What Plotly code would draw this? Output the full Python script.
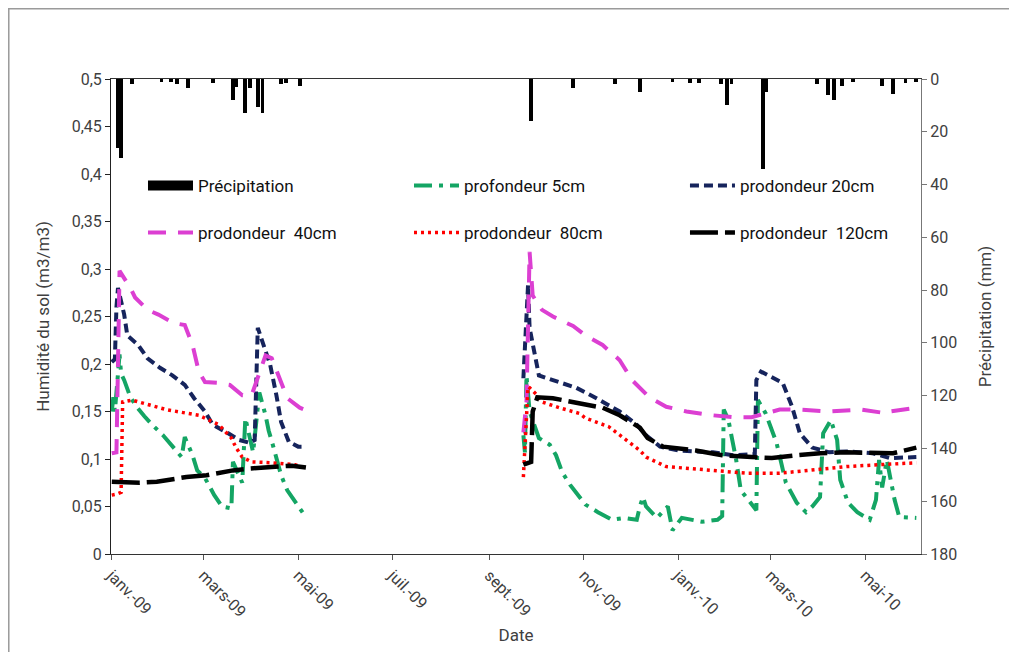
import plotly.graph_objects as go

# ---------------- data ----------------
precip_dates = ["2009-01-05", "2009-01-07", "2009-01-14", "2009-02-02", "2009-02-08", "2009-02-12",
                "2009-02-19", "2009-03-07", "2009-03-20", "2009-03-22", "2009-03-28", "2009-03-31",
                "2009-04-05", "2009-04-08", "2009-04-20", "2009-04-23", "2009-05-02", "2009-09-28",
                "2009-10-25", "2009-11-21", "2009-12-07", "2009-12-28", "2010-01-08", "2010-01-14",
                "2010-01-28", "2010-02-01", "2010-02-04", "2010-02-24", "2010-02-26", "2010-03-31",
                "2010-04-07", "2010-04-11", "2010-04-16", "2010-04-23", "2010-05-12", "2010-05-19",
                "2010-05-27", "2010-06-03"]
precip_mm = [26, 30, 2, 1, 1, 2, 3.5, 1.5, 8, 3, 13, 3.5, 10.5, 13, 2, 1.5, 2.5, 16,
             3.5, 2, 5, 1, 1.5, 1.5, 2, 10, 2, 34, 5, 2, 6, 8, 2.5, 1, 2.5, 5.7, 1.5, 1]

# profondeur 5cm
p5_dates_1 = ["2009-01-01", "2009-01-02", "2009-01-03", "2009-01-05", "2009-01-06", "2009-01-07",
              "2009-01-09", "2009-01-13", "2009-01-17", "2009-01-22", "2009-01-27", "2009-02-03",
              "2009-02-09", "2009-02-15", "2009-02-17", "2009-02-22", "2009-02-25", "2009-03-02",
              "2009-03-08", "2009-03-13", "2009-03-19", "2009-03-20", "2009-03-26", "2009-03-28",
              "2009-04-02", "2009-04-06", "2009-04-10", "2009-04-12", "2009-04-15", "2009-04-20",
              "2009-04-24", "2009-04-29", "2009-05-05"]
p5_vals_1 = [0.15, 0.165, 0.15, 0.185, 0.21, 0.19, 0.183, 0.165, 0.155, 0.145, 0.136, 0.125,
             0.113, 0.102, 0.123, 0.104, 0.088, 0.08, 0.062, 0.05, 0.048, 0.097, 0.075, 0.143,
             0.107, 0.17, 0.146, 0.13, 0.113, 0.083, 0.067, 0.055, 0.041]
p5_dates_2 = ["2009-09-23", "2009-09-24", "2009-09-25", "2009-09-27", "2009-10-03", "2009-10-10",
              "2009-10-14", "2009-10-18", "2009-10-23", "2009-11-02", "2009-11-10", "2009-11-19",
              "2009-11-27", "2009-12-05", "2009-12-07", "2009-12-09", "2009-12-11", "2009-12-18",
              "2009-12-25", "2009-12-28", "2010-01-03", "2010-01-16", "2010-01-26", "2010-01-29",
              "2010-01-30", "2010-02-02", "2010-02-07", "2010-02-10", "2010-02-20", "2010-02-21",
              "2010-02-26", "2010-03-05", "2010-03-08", "2010-03-11", "2010-03-18", "2010-03-24",
              "2010-03-28", "2010-04-02", "2010-04-04", "2010-04-09", "2010-04-13", "2010-04-15",
              "2010-04-20", "2010-04-26", "2010-05-04", "2010-05-08", "2010-05-10", "2010-05-12",
              "2010-05-15", "2010-05-20", "2010-05-23", "2010-06-03"]
p5_vals_2 = [0.125, 0.107, 0.188, 0.15, 0.122, 0.115, 0.104, 0.086, 0.073, 0.052, 0.044, 0.036,
             0.038, 0.036, 0.05, 0.06, 0.05, 0.038, 0.05, 0.025, 0.038, 0.034, 0.036, 0.04,
             0.152, 0.141, 0.099, 0.067, 0.046, 0.162, 0.148, 0.117, 0.096, 0.075, 0.054, 0.044,
             0.05, 0.06, 0.127, 0.141, 0.12, 0.078, 0.054, 0.044, 0.036, 0.057, 0.099, 0.07,
             0.099, 0.057, 0.039, 0.038]

# prodondeur 20cm
p20_dates_1 = ["2009-01-01", "2009-01-03", "2009-01-04", "2009-01-05", "2009-01-09", "2009-01-11",
               "2009-01-18", "2009-01-24", "2009-02-01", "2009-02-09", "2009-02-17", "2009-02-23",
               "2009-03-02", "2009-03-07", "2009-03-16", "2009-03-24", "2009-03-31", "2009-04-03",
               "2009-04-05", "2009-04-08", "2009-04-13", "2009-04-17", "2009-04-20", "2009-04-25",
               "2009-05-01", "2009-05-06"]
p20_vals_1 = [0.202, 0.205, 0.26, 0.28, 0.252, 0.23, 0.22, 0.206, 0.196, 0.188, 0.178, 0.164,
              0.15, 0.136, 0.128, 0.12, 0.117, 0.12, 0.238, 0.223, 0.199, 0.167, 0.139, 0.118,
              0.113, 0.113]
p20_dates_2 = ["2009-09-23", "2009-09-26", "2009-09-27", "2009-09-30", "2009-10-03", "2009-10-12",
               "2009-10-27", "2009-11-09", "2009-11-24", "2009-12-05", "2009-12-11", "2009-12-20",
               "2010-01-01", "2010-01-23", "2010-02-05", "2010-02-19", "2010-02-20", "2010-02-23",
               "2010-03-02", "2010-03-09", "2010-03-15", "2010-03-20", "2010-03-28", "2010-04-08",
               "2010-04-19", "2010-05-06", "2010-05-17", "2010-05-25", "2010-06-03"]
p20_vals_2 = [0.185, 0.283, 0.238, 0.21, 0.188, 0.183, 0.175, 0.164, 0.15, 0.136, 0.125, 0.113,
              0.109, 0.107, 0.104, 0.105, 0.183, 0.192, 0.186, 0.18, 0.155, 0.127, 0.112, 0.107,
              0.108, 0.106, 0.101, 0.101, 0.102]

# prodondeur 40cm
p40_dates_1 = ["2009-01-01", "2009-01-04", "2009-01-05", "2009-01-06", "2009-01-13", "2009-01-16",
               "2009-01-24", "2009-01-31", "2009-02-10", "2009-02-17", "2009-02-22", "2009-02-26",
               "2009-03-02", "2009-03-11", "2009-03-18", "2009-03-26", "2009-04-01", "2009-04-07",
               "2009-04-10", "2009-04-14", "2009-04-19", "2009-04-24", "2009-05-02", "2009-05-05"]
p40_vals_1 = [0.106, 0.107, 0.2, 0.298, 0.28, 0.27, 0.257, 0.252, 0.243, 0.241, 0.22, 0.192,
              0.181, 0.18, 0.178, 0.167, 0.167, 0.196, 0.209, 0.206, 0.185, 0.164, 0.154, 0.152]
p40_dates_2 = ["2009-09-23", "2009-09-25", "2009-09-27", "2009-09-29", "2009-10-05", "2009-10-12",
               "2009-10-25", "2009-11-02", "2009-11-13", "2009-11-24", "2009-12-02", "2009-12-13",
               "2009-12-24", "2010-01-06", "2010-01-23", "2010-02-05", "2010-02-17", "2010-02-26",
               "2010-03-07", "2010-03-20", "2010-04-08", "2010-04-29", "2010-05-15", "2010-05-17",
               "2010-06-03"]
p40_vals_2 = [0.128, 0.16, 0.318, 0.272, 0.257, 0.25, 0.24, 0.23, 0.22, 0.204, 0.183, 0.165,
              0.155, 0.15, 0.146, 0.144, 0.144, 0.148, 0.152, 0.152, 0.15, 0.152, 0.148, 0.15,
              0.154]

# prodondeur 80cm
p80_dates_1 = ["2009-01-01", "2009-01-04", "2009-01-07", "2009-01-08", "2009-01-14", "2009-02-05",
               "2009-02-26", "2009-03-11", "2009-03-19", "2009-03-22", "2009-03-26", "2009-04-01",
               "2009-04-14", "2009-04-23", "2009-04-29", "2009-05-05"]
p80_vals_1 = [0.062, 0.063, 0.065, 0.16, 0.162, 0.152, 0.146, 0.136, 0.122, 0.112, 0.102, 0.097,
              0.096, 0.095, 0.094, 0.091]
p80_dates_2 = ["2009-09-23", "2009-09-26", "2009-09-27", "2009-10-02", "2009-10-05", "2009-10-16",
               "2009-10-29", "2009-11-02", "2009-11-17", "2009-11-30", "2009-12-07", "2009-12-11",
               "2009-12-24", "2010-01-23", "2010-02-14", "2010-03-07", "2010-03-28", "2010-04-19",
               "2010-05-10", "2010-06-03"]
p80_vals_2 = [0.081, 0.176, 0.175, 0.167, 0.16, 0.154, 0.148, 0.143, 0.134, 0.118, 0.109, 0.102,
              0.092, 0.088, 0.085, 0.085, 0.088, 0.092, 0.094, 0.096]

# prodondeur 120cm
p120_dates_1 = ["2009-01-01", "2009-01-19", "2009-01-30", "2009-02-12", "2009-02-18", "2009-03-03",
                "2009-03-20", "2009-03-31", "2009-04-17", "2009-04-27", "2009-05-06"]
p120_vals_1 = [0.076, 0.075, 0.076, 0.08, 0.081, 0.083, 0.088, 0.09, 0.092, 0.093, 0.091]
p120_dates_2 = ["2009-09-23", "2009-09-28", "2009-09-29", "2009-10-02", "2009-10-12", "2009-10-27",
                "2009-11-13", "2009-11-24", "2009-12-07", "2009-12-12", "2009-12-22", "2010-01-12",
                "2010-01-29", "2010-02-17", "2010-03-02", "2010-03-18", "2010-04-02", "2010-04-19",
                "2010-05-10", "2010-05-19", "2010-06-03"]
p120_vals_2 = [0.094, 0.097, 0.15, 0.165, 0.164, 0.159, 0.154, 0.146, 0.133, 0.122, 0.113, 0.109,
               0.104, 0.102, 0.101, 0.104, 0.106, 0.107, 0.107, 0.106, 0.112]

gap_date = "2009-07-01"   # break between the two measuring campaigns

left_ticks = [0, 0.05, 0.1, 0.15, 0.2, 0.25, 0.3, 0.35, 0.4, 0.45, 0.5]
left_labels = ["0", "0,05", "0,1", "0,15", "0,2", "0,25", "0,3", "0,35", "0,4", "0,45", "0,5"]
right_ticks = [0, 20, 40, 60, 80, 100, 120, 140, 160, 180]
x_tick_dates = ["2009-01-01", "2009-03-01", "2009-05-01", "2009-07-01", "2009-09-01",
                "2009-11-01", "2010-01-01", "2010-03-01", "2010-05-01"]
x_tick_labels = ["janv.-09", "mars-09", "mai-09", "juil.-09", "sept.-09", "nov.-09",
                 "janv.-10", "mars-10", "mai-10"]

FONT = "Roboto, sans-serif"
TXT = "#404040"
NB = "\u00a0"

fig = go.Figure()

# precipitation bars (right, reversed axis)
fig.add_trace(go.Bar(x=precip_dates, y=precip_mm, yaxis="y2", marker=dict(color="black", line=dict(width=0)),
                     width=[2.5 * 86400000] * len(precip_dates), showlegend=False, name="Précipitation"))
fig.add_trace(go.Scatter(x=[None], y=[None], mode="lines", name="Précipitation",
                         line=dict(color="black", width=12), legend="legend"))


def series(d1, v1, d2, v2):
    return d1 + [gap_date] + d2, v1 + [None] + v2


specs = [
    ("profondeur 5cm", p5_dates_1, p5_vals_1, p5_dates_2, p5_vals_2, "#14A564", "18px,7px,4px,7px", 4, "legend2"),
    ("prodondeur 20cm", p20_dates_1, p20_vals_1, p20_dates_2, p20_vals_2, "#16245C", "9px,5px", 4, "legend3"),
    ("prodondeur" + NB + NB + "40cm", p40_dates_1, p40_vals_1, p40_dates_2, p40_vals_2, "#DC3FD2", "18px,12px", 4, "legend4"),
    ("prodondeur" + NB + NB + "80cm", p80_dates_1, p80_vals_1, p80_dates_2, p80_vals_2, "#FF0000", "3px,4px", 3.5, "legend5"),
    ("prodondeur" + NB + NB + "120cm", p120_dates_1, p120_vals_1, p120_dates_2, p120_vals_2, "#000000", "28px,7px", 4.5, "legend6"),
]
for name, d1, v1, d2, v2, col, dash, w, lg in specs:
    xs, ys = series(d1, v1, d2, v2)
    fig.add_trace(go.Scatter(x=xs, y=ys, mode="lines", name=name, connectgaps=False,
                             line=dict(color=col, dash=dash, width=w), legend=lg))


def legend_at(x, y):
    return dict(orientation="h", xanchor="left", yanchor="middle", x=x, y=y,
                bgcolor="rgba(0,0,0,0)", font=dict(family=FONT, size=17, color="#111"), itemwidth=45)


col_x = [0.0395, 0.3679, 0.7086]
row_y = [0.775, 0.676]

# plot area in figure pixels: left 103, right 913, top 71, bottom 546
fig.update_layout(
    width=1017, height=652,
    margin=dict(l=103, r=104, t=71, b=106),
    paper_bgcolor="white", plot_bgcolor="white",
    font=dict(family=FONT, size=16, color=TXT),
    bargap=0,
    legend=legend_at(col_x[0], row_y[0]),
    legend2=legend_at(col_x[1], row_y[0]),
    legend3=legend_at(col_x[2], row_y[0]),
    legend4=legend_at(col_x[0], row_y[1]),
    legend5=legend_at(col_x[1], row_y[1]),
    legend6=legend_at(col_x[2], row_y[1]),
    xaxis=dict(type="date", range=["2008-12-31 12:00", "2010-06-06"],
               tickmode="array", tickvals=x_tick_dates, ticktext=x_tick_labels, tickangle=45,
               ticks="outside", ticklen=5, tickcolor="#555", showline=True, linecolor="#333", linewidth=1,
               mirror=True, showgrid=False, zeroline=False,
               title=dict(text="Date", font=dict(family=FONT, size=17, color=TXT), standoff=8),
               tickfont=dict(family=FONT, size=16, color=TXT)),
    yaxis=dict(range=[0, 0.5], tickmode="array", tickvals=left_ticks, ticktext=left_labels,
               ticks="outside", ticklen=5, tickcolor="#222", showline=True, linecolor="#222", linewidth=1,
               showgrid=False, zeroline=False,
               title=dict(text="Humidité du sol (m3/m3)", font=dict(family=FONT, size=17, color=TXT), standoff=17),
               tickfont=dict(family=FONT, size=16, color=TXT)),
    yaxis2=dict(range=[180, 0], overlaying="y", side="right", tickmode="array", tickvals=right_ticks,
                ticks="outside", ticklen=5, tickcolor="#777", showline=True, linecolor="#777", linewidth=1,
                showgrid=False, zeroline=False,
                title=dict(text="Précipitation (mm)", font=dict(family=FONT, size=17, color=TXT), standoff=22),
                tickfont=dict(family=FONT, size=16, color=TXT)),
    shapes=[dict(type="rect", xref="paper", yref="paper", x0=-0.1262, x1=1.1099, y0=-0.3, y1=1.1478,
                 line=dict(color="#9a9a9a", width=1.5), fillcolor="rgba(0,0,0,0)", layer="below")],
)

fig.write_html("out.html")
